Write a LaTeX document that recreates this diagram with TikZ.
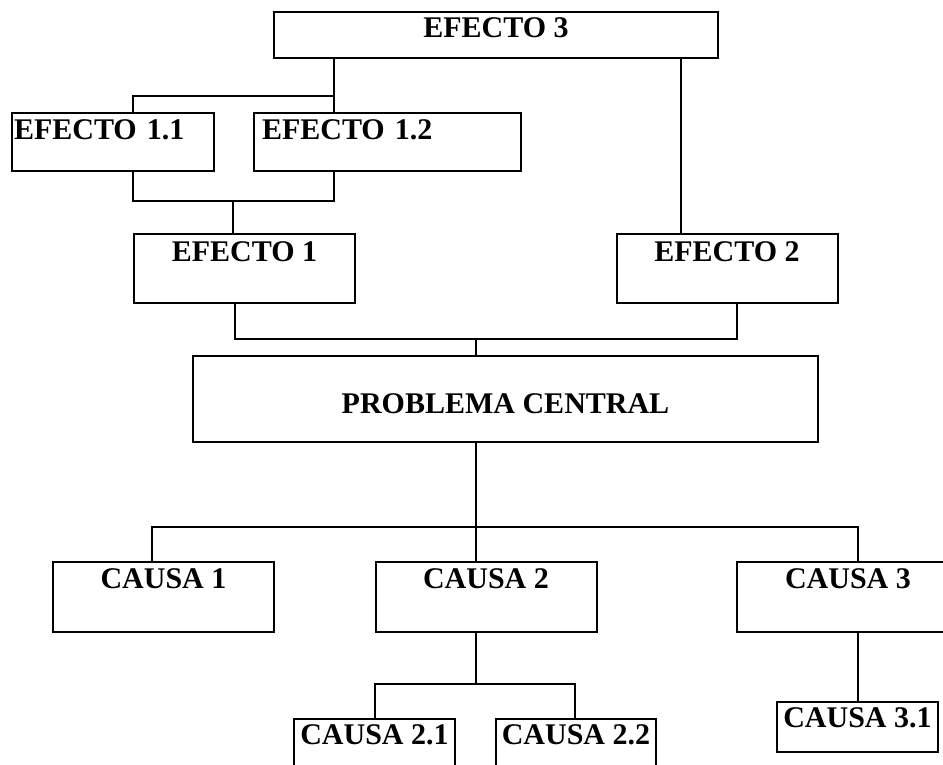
\documentclass[tikz,border=0pt]{standalone}
\usepackage{fontspec}
\setmainfont{Liberation Serif}
\usepackage{tikz}
\usetikzlibrary{positioning}

\begin{document}
\begin{tikzpicture}[x=0.5pt, y=-0.5pt,
    caja/.style={draw, line width=1pt, inner sep=0pt, align=center,
        font=\bfseries\fontsize{15}{15}\selectfont},
    linea/.style={line width=1pt}]
    \useasboundingbox (0,0) rectangle (943,765);
    \clip (0,0) rectangle (943,765);

    % Efectos
    \node[caja, minimum width=222pt, text height=13pt, text depth=10pt] (e3) at (496,35) {EFECTO 3};
    \node[caja, minimum width=101pt, text height=13.5pt, text depth=15.5pt, anchor=west, inner xsep=1pt,
        text width=99pt, align=left] (e11) at (11,142) {EFECTO 1.1};
    \node[caja, minimum width=133.5pt, text height=13.5pt, text depth=15.5pt, anchor=west, inner xsep=4pt,
        text width=125.5pt, align=left] (e12) at (253,142) {EFECTO 1.2};
    \node[caja, minimum width=110.5pt, text height=13.5pt, text depth=21pt] (e1) at (244.5,268.5) {EFECTO 1};
    \node[caja, minimum width=110.5pt, text height=13.5pt, text depth=21pt] (e2) at (727,268.5) {EFECTO 2};

    % Problema
    \node[caja, minimum width=312.5pt, text height=28.5pt, text depth=14.5pt] (pc) at (505.5,399) {PROBLEMA CENTRAL};

    % Causas
    \node[caja, minimum width=110.5pt, text height=13pt, text depth=22pt] (c1) at (163.5,597) {CAUSA 1};
    \node[caja, minimum width=110.5pt, text height=13pt, text depth=22pt] (c2) at (486,597) {CAUSA 2};
    \node[caja, minimum width=111pt, text height=13pt, text depth=22pt] (c3) at (848,597) {CAUSA 3};
    \node[caja, minimum width=80.5pt, text height=12.5pt, text depth=17.5pt] (c21) at (374.5,749) {CAUSA 2.1};
    \node[caja, minimum width=80pt, text height=12.5pt, text depth=17.5pt] (c22) at (576,749) {CAUSA 2.2};
    \node[caja, minimum width=80.5pt, text height=12.5pt, text depth=12.5pt] (c31) at (857.5,727) {CAUSA 3.1};

    % Junctions
    \coordinate (a1) at (133,96);
    \coordinate (a2) at (334,96);
    \coordinate (b1) at (133,201);
    \coordinate (b2) at (334,201);
    \coordinate (b0) at (233,201);
    \coordinate (k2) at (681,150);
    \coordinate (m1) at (235,339);
    \coordinate (m2) at (737,339);
    \coordinate (m0) at (476,339);
    \coordinate (n1) at (152,527);
    \coordinate (n0) at (476,527);
    \coordinate (n3) at (858,527);
    \coordinate (p1) at (375,684);
    \coordinate (p0) at (476,684);
    \coordinate (p2) at (575,684);

    % Connectors
    \draw[linea] (e3.south -| a2) -- (a2) -- (a1) -- (e11.north -| a1);
    \draw[linea] (a2) -- (e12.north -| a2);
    \draw[linea] (e11.south -| b1) -- (b1) -- (b2) -- (e12.south -| b2);
    \draw[linea] (b0) -- (e1.north -| b0);
    \draw[linea] (e3.south -| k2) -- (e2.north -| k2);
    \draw[linea] (e1.south -| m1) -- (m1) -- (m2) -- (e2.south -| m2);
    \draw[linea] (m0) -- (pc.north -| m0);
    \draw[linea] (pc.south -| n0) -- (n0);
    \draw[linea] (c1.north -| n1) -- (n1) -- (n3) -- (c3.north -| n3);
    \draw[linea] (n0) -- (c2.north -| n0);
    \draw[linea] (c2.south -| p0) -- (p0);
    \draw[linea] (c21.north -| p1) -- (p1) -- (p2) -- (c22.north -| p2);
    \draw[linea] (c3.south -| n3) -- (c31.north -| n3);
\end{tikzpicture}
\end{document}
